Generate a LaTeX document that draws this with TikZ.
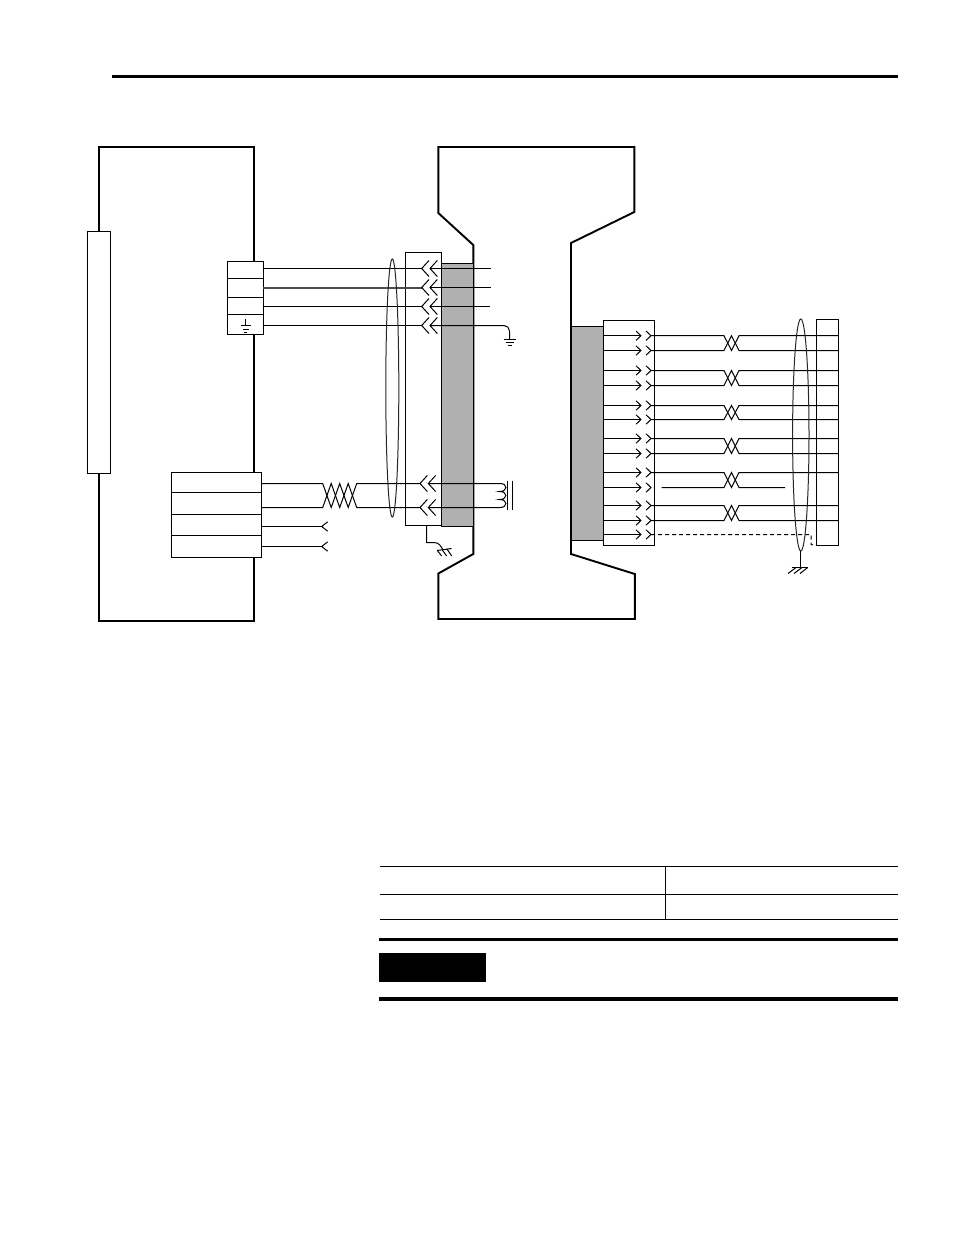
\documentclass[tikz,border=0pt]{standalone}
\tikzset{
  boxnode/.style={draw=black,fill=white,line width=1pt,outer sep=0pt,inner sep=0pt},
  wire/.style={line width=1pt,black},
  greywire/.style={line width=1.2pt,black!70},
  shield/.style={line width=1pt,black!85},
  outline/.style={line width=1.9pt,black,line join=miter},
  block/.style={fill=black!31,draw=black,line width=1pt,outer sep=0pt,inner sep=0pt}
}
\newcommand\chevL[2]{\draw[wire] (#1+7.3,#2-8) -- (#1,#2) -- (#1+7.3,#2+8);}
\newcommand\chevR[2]{\draw[wire] (#1-5,#2-4.7) -- (#1,#2) -- (#1-5,#2+4.7);}
\begin{document}
\begin{tikzpicture}[x=1pt,y=-1pt]
\useasboundingbox (0,0) rectangle (954,1235);
% top rule
\coordinate (ruleL) at (112,76.5); \coordinate (ruleR) at (898,76.5);
\draw[line width=3pt] (ruleL) -- (ruleR);
% left housing
\draw[outline] (98.9,147) -- (254,147) -- (254,621) -- (98.9,621) -- cycle;
\node[boxnode,minimum width=23.5pt,minimum height=242pt] (leftconn) at (99,352.3) {};
\node[boxnode,minimum width=36pt,minimum height=73pt] (conn1) at (245.4,297.9) {};
\foreach \y in {278.5,297.5,314.5} \draw[wire] (conn1.west |- 0,\y) -- (conn1.east |- 0,\y);
\node[boxnode,minimum width=90pt,minimum height=85pt] (conn2) at (216.4,515) {};
\foreach \y in {492.5,514.5,535.5} \draw[wire] (conn2.west |- 0,\y) -- (conn2.east |- 0,\y);
% ground in conn1
\coordinate (g1) at (245.5,325.5);
\draw[wire] (245.5,319) -- (g1);
\draw[wire] (240.5,325.5) -- (250.5,325.5);
\draw[wire] (242.5,329.5) -- (248.5,329.5);
\draw[wire] (244,332.5) -- (247,332.5);
% centre housing
\draw[outline] (438.3,147) -- (634.3,147) -- (634.3,212) -- (571,243) -- (571,554) -- (634.8,574) -- (634.8,619) -- (438.3,619) -- (438.3,573.5) -- (473.3,554) -- (473.3,245) -- (438.3,213) -- cycle;
% connector blocks at centre
\node[block,minimum width=32pt,minimum height=263pt,anchor=north west] (graybL) at (441.3,263) {};
\node[boxnode,minimum width=36pt,minimum height=273pt,anchor=north west] (connL) at (405.4,252.7) {};
\node[block,minimum width=32.5pt,minimum height=214pt,anchor=north west] (graybR) at (571,326) {};
\node[boxnode,minimum width=51.4pt,minimum height=225pt,anchor=north west] (connR) at (603.4,320.4) {};
\node[boxnode,minimum width=22pt,minimum height=226pt,anchor=north west] (term) at (816.4,319.4) {};
% upper-left wires
\foreach \y/\st/\e in {268.5/wire/491,306.5/wire/490} {
  \draw[\st] (conn1.east |- 0,\y) -- (421.7,\y);
  \draw[\st] (430,\y) -- (\e,\y);
  \chevL{421.7}{\y} \chevL{430}{\y}
}
\draw[greywire] (conn1.east |- 0,288) -- (421.7,288);
\draw[wire] (430,287.5) -- (491,287.5);
\chevL{421.7}{287.5} \chevL{430}{287.5}
\draw[wire] (conn1.east |- 0,325.5) -- (421.7,325.5);
\draw[wire] (430,325.5) -- (504,325.5) to[out=0,in=90] (509.5,331) -- (509.5,339.5);
\chevL{421.7}{325.5} \chevL{430}{325.5}
\draw[wire] (503.5,339.5) -- (515.5,339.5);
\draw[wire] (505.5,342.5) -- (513.5,342.5);
\draw[wire] (507.5,345.5) -- (511.5,345.5);
% twisted pair lower left
\coordinate (tw1) at (322.7,483.5); \coordinate (tw2) at (322.7,507.5);
\draw[wire] (conn2.east |- tw1) -- (tw1) -- (331.2,507.5) -- (339.7,483.5) -- (348.2,507.5) -- (356.7,483.5) -- (420,483.5);
\draw[wire] (conn2.east |- tw2) -- (tw2) -- (331.2,483.5) -- (339.7,507.5) -- (348.2,483.5) -- (356.7,507.5) -- (420,507.5);
\chevL{420}{483.5} \chevL{428.3}{483.5}
\chevL{420}{507.5} \chevL{428.3}{507.5}
% coil
\draw[wire] (428.3,483.5) -- (500,483.5) .. controls (508,483.5) and (508,491.5) .. (499.5,491.5) .. controls (508,491.5) and (508,499.5) .. (499.5,499.5) .. controls (508,499.5) and (508,507.5) .. (500,507.5) -- (428.3,507.5);
\draw[wire] (507.5,480.7) -- (507.5,510);
\draw[wire] (512.5,480.7) -- (512.5,510);
% open wires
\foreach \y in {526.5,546.5} {
  \draw[wire] (conn2.east |- 0,\y) -- (321.7,\y);
  \draw[wire] (327.7,\y-4.7) -- (321.7,\y) -- (327.7,\y+4.7);
}
% chassis ground of connL
\draw[wire] (426.7,525) -- (426.7,542.7) -- (435,542.7) to[out=0,in=120] (442.7,549.5);
\draw[wire] (437,550.5) -- (451.5,548.5);
\draw[wire] (437.7,551) -- (441.7,556);
\draw[wire] (442.3,550) -- (446.7,556);
\draw[wire] (447,549) -- (451.7,556);
% left cable shield
\draw[shield] (392.3,388) ellipse [x radius=6.5pt,y radius=129pt];
% right wires
\foreach \y in {335.7,350.5,370.5,385.5,405.5,419.5,438.5,453.5,472.5,487.5,505.5,520.5,534.5} {
  \draw[wire] (connR.west |- 0,\y) -- (641,\y);
  \chevR{641}{\y} \chevR{651}{\y}
}
\foreach \a/\b in {335.7/350.5,370.5/385.5,405.5/419.5,438.5/453.5,505.5/520.5} {
  \draw[wire] (651,\a) -- (724,\a) -- (731.5,\b) -- (739,\a) -- (term.east |- 0,\a);
  \draw[wire] (651,\b) -- (724,\b) -- (731.5,\a) -- (739,\b) -- (term.east |- 0,\b);
}
\draw[wire] (651,472.5) -- (724,472.5) -- (731.5,487.5) -- (739,472.5) -- (term.east |- 0,472.5);
\draw[wire] (661.7,487.5) -- (724,487.5) -- (731.5,472.5) -- (739,487.5) -- (785,487.5);
\draw[wire,dash pattern=on 4pt off 3pt] (651,534.5) -- (811,534.5) -- (811,544.5) -- (term.south west);
% right shield and ground
\draw[shield] (800.8,435) ellipse [x radius=8.2pt,y radius=116pt];
\coordinate (sh) at (800.5,551);
\draw[wire] (sh) -- (800.5,567.5);
\draw[wire] (791.7,567.5) -- (807.7,567.5);
\draw[wire] (796,567.5) -- (788,573.5);
\draw[wire] (802,567.5) -- (794,573.5);
\draw[wire] (807.7,567.5) -- (800,573.5);
% table
\foreach \y in {866.5,894.5,919.5} \draw[wire] (380,\y) -- (898,\y);
\draw[wire] (665.5,866) -- (665.5,920);
\draw[line width=3pt] (379,939.5) -- (898,939.5);
\node[fill=black,minimum width=107pt,minimum height=29pt,inner sep=0pt,outer sep=0pt,anchor=north west] (tag) at (379,953) {};
\draw[line width=4pt] (379,999) -- (898,999);
\end{tikzpicture}
\end{document}
